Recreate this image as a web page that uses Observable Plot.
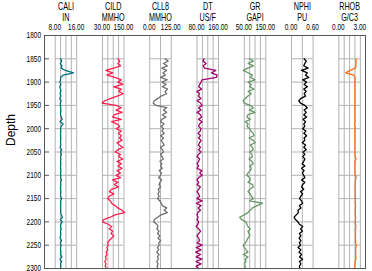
<!DOCTYPE html>
<html><head><meta charset="utf-8">
<script src="https://cdn.jsdelivr.net/npm/d3@7"></script>
<script src="https://cdn.jsdelivr.net/npm/@observablehq/plot@0.6"></script>
<style>
html,body{margin:0;padding:0;background:#fff;}
#chart svg{display:block;}
</style></head><body><div id="chart"></div>
<script>
// ---------- data ----------
const trackNames = ["CALI","CILD","CLL8","DT","GR","NPHI","RHOB"];
const trackUnits = ["IN","MMHO","MMHO","US/F","GAPI","PU","G/C3"];
const trackMin = [8, 30, 0, 80, 50, 0, 0];
const trackMax = [16, 150, 125, 160, 150, 0.6, 3];
const trackMinLabels = ["8.00","30.00","0.00","80.00","50.00","0.00","0.00"];
const trackMaxLabels = ["16.00","150.00","125.00","160.00","150.00","0.60","3.00"];
const gridDivisions = [4, 4, 2, 4, 4, 2, 4];
const depthTicks = [1800,1850,1900,1950,2000,2050,2100,2150,2200,2250,2300];
const gridDepths = [1850,1900,1950,2000,2050,2100,2150,2200,2250];

const depth = [1850,1855,1860,1865,1870,1875,1880,1885,1890,1895,
 1900,1905,1910,1915,1920,1925,1930,1935,1940,1945,
 1950,1955,1960,1965,1970,1975,1980,1985,1990,1995,
 2000,2005,2010,2015,2020,2025,2030,2035,2040,2045,
 2050,2055,2060,2065,2070,2075,2080,2085,2090,2095,
 2100,2105,2110,2115,2120,2125,2130,2135,2140,2145,
 2150,2155,2160,2165,2170,2175,2180,2185,2190,2195,
 2200,2205,2210,2215,2220,2225,2230,2235,2240,2245,
 2250,2255,2260,2265,2270,2275,2280,2285,2290,2295,2300];

const cali = [10.0,10.4,9.9,10.5,10.2,11.8,14.8,11.0,10.0,10.0,
 9.8,10.1,9.7,10.0,10.1,9.8,10.1,9.7,10.2,9.9,
 10.0,10.0,10.1,10.0,10.0,10.2,10.6,9.8,10.9,10.2,
 10.0,10.1,10.0,10.0,10.1,10.0,10.0,10.1,9.8,10.4,
 10.0,10.3,10.0,10.1,10.0,10.1,10.0,10.0,10.1,10.0,
 10.1,10.0,10.3,10.0,10.1,10.0,10.0,10.1,10.0,10.0,
 10.4,10.0,10.1,10.0,10.0,10.1,10.0,10.3,10.7,9.9,
 10.6,10.1,10.0,10.2,10.0,10.1,10.0,9.8,10.4,9.9,
 10.2,10.0,10.0,10.1,10.0,10.5,9.8,10.4,10.0,10.1,10.0];
const cild = [116,127,116,131,93,49,87,55,100,135,
 116,144,93,135,120,146,112,78,43,28,
 106,135,106,140,97,87,135,81,112,127,
 106,135,120,135,125,139,112,125,144,116,
 100,131,120,144,112,135,116,139,112,131,
 106,131,87,116,97,120,81,68,93,68,
 59,74,81,100,116,139,154,100,74,36,
 30,62,81,68,87,78,93,81,68,59,
 62,55,59,51,55,47,51,43,49,45,53];
const cll8 = [89,107,80,102,71,98,77,91,63,102,
 71,95,73,104,89,98,66,48,27,20,
 36,98,80,98,73,95,70,63,84,66,
 80,71,84,63,80,68,75,84,63,73,
 80,63,71,79,59,70,63,73,55,68,
 63,52,70,59,55,63,50,55,48,54,
 45,59,68,73,98,84,102,66,45,27,
 23,41,48,41,54,45,59,48,63,52,
 55,45,52,41,54,45,50,41,48,43,46];
const dt = [106,102,114,103,108,150,134,155,152,99,
 95,90,86,97,80,90,85,95,80,93,
 99,86,95,80,93,97,86,99,89,86,
 95,92,84,93,86,95,90,85,93,86,
 95,86,80,90,86,80,86,80,98,90,
 99,86,80,86,80,93,86,80,86,90,
 80,99,77,95,84,93,83,80,84,80,
 86,83,77,86,93,86,80,86,90,80,
 99,77,95,75,93,77,98,76,95,77,86];
const gr = [75,92,68,92,67,45,68,88,78,100,
 68,83,75,95,68,83,67,55,45,50,
 78,92,75,100,67,62,78,55,68,62,
 75,80,92,95,72,92,100,78,88,92,
 75,85,88,72,85,92,75,83,78,67,
 62,75,78,67,88,92,75,67,78,83,
 92,75,135,110,88,78,67,50,28,38,
 58,62,67,78,67,72,75,67,62,55,
 45,50,58,67,45,67,55,58,50,55,52];
const nphi = [.35,.41,.37,.34,.46,.28,.44,.39,.48,.31,
 .42,.35,.44,.34,.41,.35,.39,.26,.20,.25,
 .37,.44,.35,.41,.34,.42,.32,.39,.34,.37,
 .31,.40,.34,.42,.35,.37,.30,.39,.34,.41,
 .32,.37,.31,.37,.34,.30,.37,.28,.35,.30,
 .34,.37,.28,.37,.31,.28,.34,.25,.31,.26,
 .22,.28,.31,.22,.26,.18,.19,.13,.07,.11,
 .18,.22,.31,.25,.30,.22,.26,.21,.26,.22,
 .25,.18,.26,.21,.28,.22,.31,.22,.26,.22,.23];
const rhob = [2.4,2.4,2.38,2.35,2.3,1.6,0.95,2.1,2.25,2.25,
 2.26,2.25,2.25,2.24,2.25,2.25,2.26,2.25,2.25,2.23,
 2.25,2.25,2.26,2.25,2.24,2.25,2.25,2.26,2.2,2.25,
 2.25,2.24,2.25,2.26,2.25,2.25,2.24,2.25,2.25,2.26,
 2.25,2.25,2.26,2.4,2.26,2.25,2.25,2.24,2.25,2.26,
 2.28,2.42,2.3,2.28,2.28,2.27,2.28,2.29,2.28,2.3,
 2.3,2.29,2.3,2.35,2.3,2.3,2.31,2.3,2.35,2.3,
 2.3,2.31,2.38,2.32,2.32,2.31,2.32,2.32,2.33,2.32,
 2.45,2.35,2.35,2.35,2.34,2.35,2.4,2.25,2.28,2.2,2.22];

const seriesValues = [cali, cild, cll8, dt, gr, nphi, rhob];

// ---------- styles / layout ----------
const trackColors = ["#00717b","#ff1f4f","#6e6e6e","#a3006e","#669966","#000000","#ff6a13"];
const W = 0.455;               // track width in track units
const gridColor = "#b3b3b3";
const frameColor = "#555555";
const font = "'Liberation Sans', Arial, Helvetica, sans-serif";

const idx = d3.range(trackNames.length);
const norm = (i, v) => i + (v - trackMin[i]) / (trackMax[i] - trackMin[i]) * W;

const gridV = idx.flatMap(i => d3.range(gridDivisions[i] + 1).map(j => i + j / gridDivisions[i] * W));
const gridH = idx.flatMap(i => gridDepths.map(d => ({depth: d, x1: i, x2: i + W})));

const curveMarks = idx.map(i => Plot.line(
  depth.map((d, k) => ({depth: d, x: norm(i, seriesValues[i][k])})),
  {x: "x", y: "depth", stroke: trackColors[i], strokeWidth: 1.3, strokeLinejoin: "round"}
));

const chart = Plot.plot({
  width: 372, height: 271,
  marginLeft: 44, marginRight: 7, marginTop: 35, marginBottom: 3,
  style: {fontFamily: font, fontSize: "9px", background: "#fff", color: "#000"},
  x: {domain: [-0.226, 6.564], axis: null},
  y: {domain: [1800, 2300], reverse: true, axis: null},
  marks: [
    Plot.ruleX(gridV, {stroke: gridColor, strokeWidth: 1}),
    Plot.ruleY(gridH, {y: "depth", x1: "x1", x2: "x2", stroke: gridColor, strokeWidth: 1}),
    ...curveMarks,
    Plot.frame({stroke: frameColor, strokeWidth: 1}),
    Plot.axisY(depthTicks, {anchor: "left", tickSize: -5, tickPadding: 8.5, stroke: frameColor,
      tickFormat: d => String(d), fontSize: 9, label: null, fill: "#000"}),
    Plot.text(["Depth"], {frameAnchor: "left", rotate: -90, dx: -30, dy: -6, lineAnchor: "bottom",
      fontSize: 12, fill: "#000"}),
    Plot.text(idx, {x: i => i + W / 2, text: i => trackNames[i], frameAnchor: "top", dy: -25.5,
      lineAnchor: "bottom", fontSize: 10, fill: "#000"}),
    Plot.text(idx, {x: i => i + W / 2, text: i => trackUnits[i], frameAnchor: "top", dy: -15,
      lineAnchor: "bottom", fontSize: 10, fill: "#000"}),
    Plot.text(idx, {x: i => i, text: i => trackMinLabels[i], frameAnchor: "top", dy: -5.5, dx: -0.5,
      lineAnchor: "bottom", fontSize: 9, fill: "#000"}),
    Plot.text(idx, {x: i => i + W, text: i => trackMaxLabels[i], frameAnchor: "top", dy: -5.5, dx: -0.5,
      lineAnchor: "bottom", fontSize: 9, fill: "#000"})
  ]
});

// condensed lettering like the reference (horizontal squeeze around each text's anchor)
d3.select(chart).selectAll("text").each(function() {
  if (this.textContent === "Depth") return;
  const t = this.getAttribute("transform") || "";
  this.setAttribute("transform", (t + " scale(0.72,1)").trim());
});

document.getElementById("chart").appendChild(chart);
</script></body></html>
